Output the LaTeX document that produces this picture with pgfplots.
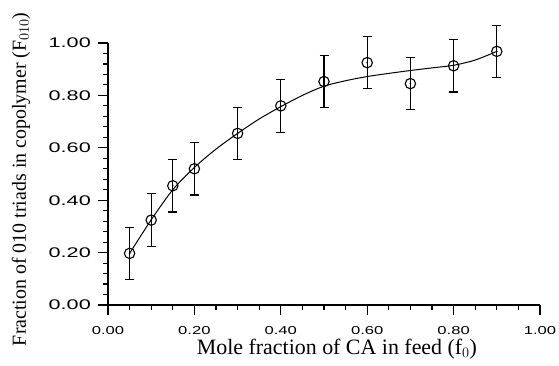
\documentclass[border=0pt]{standalone}
\usepackage{fontspec}
\setmainfont{Liberation Serif}
\newfontfamily\ticksf{Liberation Sans}
\usepackage{graphicx}
\usepackage{pgfplots}
\pgfplotsset{compat=1.18}
\begin{document}
\begin{tikzpicture}
\begin{axis}[
  scale only axis,
  width=432bp, height=262bp,
  xmin=0, xmax=1, ymin=0, ymax=1,
  axis lines*=left,
  axis line style={line width=1.3pt},
  xtick={0,0.2,0.4,0.6,0.8,1.0},
  ytick={0,0.2,0.4,0.6,0.8,1.0},
  minor xtick={0.05,0.1,0.15,0.25,0.3,0.35,0.45,0.5,0.55,0.65,0.7,0.75,0.85,0.9,0.95},
  minor ytick={0.04,0.08,0.12,0.16,0.24,0.28,0.32,0.36,0.44,0.48,0.52,0.56,0.64,0.68,0.72,0.76,0.84,0.88,0.92,0.96},
  tick align=outside,
  major tick length=10bp,
  minor tick length=5bp,
  tick style={line width=1.1pt, black},
  /pgf/number format/assume math mode=true,
  /pgf/number format/.cd, fixed, fixed zerofill, precision=2,
  /pgfplots/.cd,
  xticklabel={\scalebox{1.45}[1]{\pgfmathprintnumber{\tick}}},
  yticklabel={\scalebox{1.55}[1]{\pgfmathprintnumber{\tick}}},
  xticklabel style={font=\ticksf\fontsize{11.5}{12}\selectfont, anchor=north, inner sep=0pt},
  yticklabel style={font=\ticksf\fontsize{14}{15}\selectfont, anchor=east, inner sep=0pt},
  yticklabel shift=7bp,
  xticklabel shift=11bp,
  xlabel={Mole fraction of CA in feed (f$_0$)},
  ylabel={Fraction of 010 triads in copolymer (F$_{010}$)},
  xlabel style={font=\fontsize{22}{23}\selectfont, at={(axis description cs:0.53,-0.19)}, anchor=base},
  ylabel style={font=\fontsize{20}{21}\selectfont, at={(axis description cs:-0.2014,0.48)}, anchor=center},
  clip=false,
]
% fitted curve
\addplot[black, line width=1pt, smooth, no marks] coordinates {
  (0.05,0.197) (0.10,0.325) (0.15,0.440) (0.20,0.525) (0.25,0.595)
  (0.30,0.655) (0.35,0.710) (0.40,0.757) (0.45,0.800) (0.50,0.835)
  (0.55,0.856) (0.60,0.872) (0.65,0.884) (0.70,0.895) (0.75,0.905)
  (0.80,0.915) (0.85,0.935) (0.90,0.968)
};
% data with error bars
\addplot[black, only marks, mark=o, mark size=5.2bp,
  mark options={line width=1.1pt, fill=white},
  error bars/.cd, y dir=both, y explicit,
  error bar style={line width=1.1pt},
  error mark options={rotate=90, mark size=4.5bp, line width=1.1pt}]
  coordinates {
  (0.05,0.197) +- (0,0.10)
  (0.10,0.324) +- (0,0.10)
  (0.15,0.455) +- (0,0.10)
  (0.20,0.520) +- (0,0.10)
  (0.30,0.655) +- (0,0.10)
  (0.40,0.760) +- (0,0.10)
  (0.50,0.853) +- (0,0.10)
  (0.60,0.925) +- (0,0.10)
  (0.70,0.845) +- (0,0.10)
  (0.80,0.913) +- (0,0.10)
  (0.90,0.968) +- (0,0.10)
};
\addplot[black, only marks, mark=*, mark size=0.6bp] coordinates {
  (0.05,0.197) (0.10,0.324) (0.15,0.455) (0.20,0.520) (0.30,0.655)
  (0.40,0.760) (0.50,0.853) (0.60,0.925) (0.70,0.845) (0.80,0.913) (0.90,0.968)
};
\end{axis}
\pgfresetboundingbox
\path (current axis.south west) ++(-108bp,-61bp) rectangle ++(559bp,366bp);
\end{tikzpicture}
\end{document}
